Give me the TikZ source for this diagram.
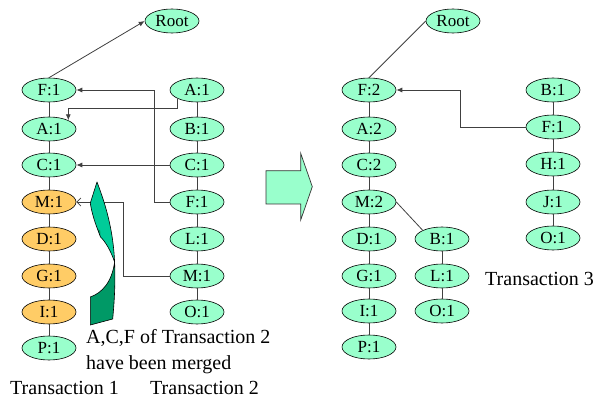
\documentclass[tikz,border=0pt]{standalone}
\usepackage{fontspec}
\setmainfont{Liberation Serif}
\usetikzlibrary{shapes.geometric,arrows.meta}
\definecolor{mint}{HTML}{99FFCC}
\definecolor{amber}{HTML}{FFCC66}
\definecolor{sea}{HTML}{00CC99}
\definecolor{deepsea}{HTML}{009966}
\definecolor{wire}{HTML}{404040}
% curved "merge" arrow: a twisted band, light front face on top, dark back face below
\newcommand\swooshfront{(97,182) .. controls (103,198) and (113,225) .. (114.6,262)
  .. controls (111,251) and (105,241) .. (100.5,237) -- (97.5,229)
  .. controls (94,220) and (91.5,211) .. (90.3,203) -- cycle}
\newcommand\swooshback{(114.6,262) .. controls (115.6,285) and (114,305) .. (112.7,319)
  -- (90.3,325) -- (90.3,297) .. controls (102,293) and (112,282) .. (114.6,262) -- cycle}
\begin{document}
\begin{tikzpicture}[x=1pt,y=-1pt,
  item/.style={ellipse,draw=black,line width=0.6pt,fill=mint,minimum width=54pt,
    minimum height=24pt,inner sep=0pt,font=\fontsize{17}{17}\selectfont},
  hot/.style={item,fill=amber},
  edge/.style={draw=black!75,line width=0.8pt},
  link/.style={draw=wire,line width=0.8pt,-{Latex[length=6pt,width=5pt]}},
  openlink/.style={draw=wire,line width=0.8pt,-{Straight Barb[length=4pt,width=8pt]}},
  caption/.style={font=\fontsize{20}{22}\selectfont,anchor=west,inner sep=0pt,
    text height=13pt,text depth=0pt}]
\useasboundingbox (0,0) rectangle (597,398);

% ---- Transaction 1 path ----
\node[item] (root1) at (172,21) {Root};
\node[item] (l1f) at (49,90)  {F:1};
\node[item] (l1a) at (49,129) {A:1};
\node[item] (l1c) at (49,165) {C:1};
\node[hot]  (l1m) at (49,202) {M:1};
\node[hot]  (l1d) at (49,239) {D:1};
\node[hot]  (l1g) at (49,276) {G:1};
\node[hot]  (l1i) at (49,312) {I:1};
\node[item] (l1p) at (49,348) {P:1};
\foreach \a/\b in {l1f/l1a,l1a/l1c,l1c/l1m,l1m/l1d,l1d/l1g,l1g/l1i,l1i/l1p}
  \draw[edge] (\a) -- (\b);
\draw[link] (l1f.north) -- (root1.west);

% ---- Transaction 2 path ----
\node[item] (t2a) at (197,90)  {A:1};
\node[item] (t2b) at (197,129) {B:1};
\node[item] (t2c) at (197,165) {C:1};
\node[item] (t2f) at (197,202) {F:1};
\node[item] (t2l) at (197,239) {L:1};
\node[item] (t2m) at (197,276) {M:1};
\node[item] (t2o) at (197,312) {O:1};
\foreach \a/\b in {t2a/t2b,t2b/t2c,t2c/t2f,t2f/t2l,t2l/t2m,t2m/t2o}
  \draw[edge] (\a) -- (\b);

% merge links from transaction 2 into transaction 1
\draw[link] (t2a.south west) -- ++(0,9.5) -| (l1a.north east);
\draw[link] (t2f.west) -- ++(-15.5,0) |- (l1f.east);
\draw[link] (t2c.west) -- (l1c.east);
\draw[openlink] (t2m.west) -- ++(-46.5,0) |- (l1m.east);

% curved merge arrow
\fill[sea] \swooshfront;
\fill[deepsea] \swooshback;
\fill[deepsea] (97.5,229) -- (100.5,237) -- (100.2,230.5) -- cycle;
\draw[black,line width=0.6pt,line join=round] \swooshfront;
\draw[black,line width=0.6pt,line join=round] \swooshback;

% block arrow between the two trees
\draw[fill=mint,draw=black!80,line width=0.7pt]
  (266,170.7) -- (300.7,170.7) -- (300.7,153.3) -- (312.3,186.7)
  -- (300.7,220) -- (300.7,204) -- (266,204) -- cycle;

% ---- merged tree ----
\node[item] (root2) at (453,21) {Root};
\node[item] (r1f) at (369,90)  {F:2};
\node[item] (r1a) at (369,129) {A:2};
\node[item] (r1c) at (369,165) {C:2};
\node[item] (r1m) at (369,202) {M:2};
\node[item] (r1d) at (369,239) {D:1};
\node[item] (r1g) at (369,276) {G:1};
\node[item] (r1i) at (369,311) {I:1};
\node[item] (r1p) at (369,347) {P:1};
\foreach \a/\b in {r1f/r1a,r1a/r1c,r1c/r1m,r1m/r1d,r1d/r1g,r1g/r1i,r1i/r1p}
  \draw[edge] (\a) -- (\b);
\draw[edge] (r1f.north) -- (root2.west);

\node[item] (rbb) at (442,239) {B:1};
\node[item] (rbl) at (442,276) {L:1};
\node[item] (rbo) at (442,311) {O:1};
\draw[edge] (r1m.east) -- (rbb.north west);
\draw[edge] (rbb) -- (rbl);
\draw[edge] (rbl) -- (rbo);

% ---- Transaction 3 path ----
\node[item] (t3b) at (553,90)  {B:1};
\node[item] (t3f) at (553,127) {F:1};
\node[item] (t3h) at (553,164) {H:1};
\node[item] (t3j) at (553,202) {J:1};
\node[item] (t3o) at (553,238) {O:1};
\foreach \a/\b in {t3b/t3f,t3f/t3h,t3h/t3j,t3j/t3o}
  \draw[edge] (\a) -- (\b);
\draw[link] (t3f.west) -- ++(-65.5,0) |- (r1f.east);

% ---- captions ----
\node[caption] (note1) at (86,337) {A,C,F of Transaction 2};
\node[caption] (note2) at (86,363) {have been merged};
\node[caption] (cap1) at (10,388) {Transaction 1};
\node[caption] (cap2) at (150,388) {Transaction 2};
\node[caption] (cap3) at (485,279) {Transaction 3};
\end{tikzpicture}
\end{document}
